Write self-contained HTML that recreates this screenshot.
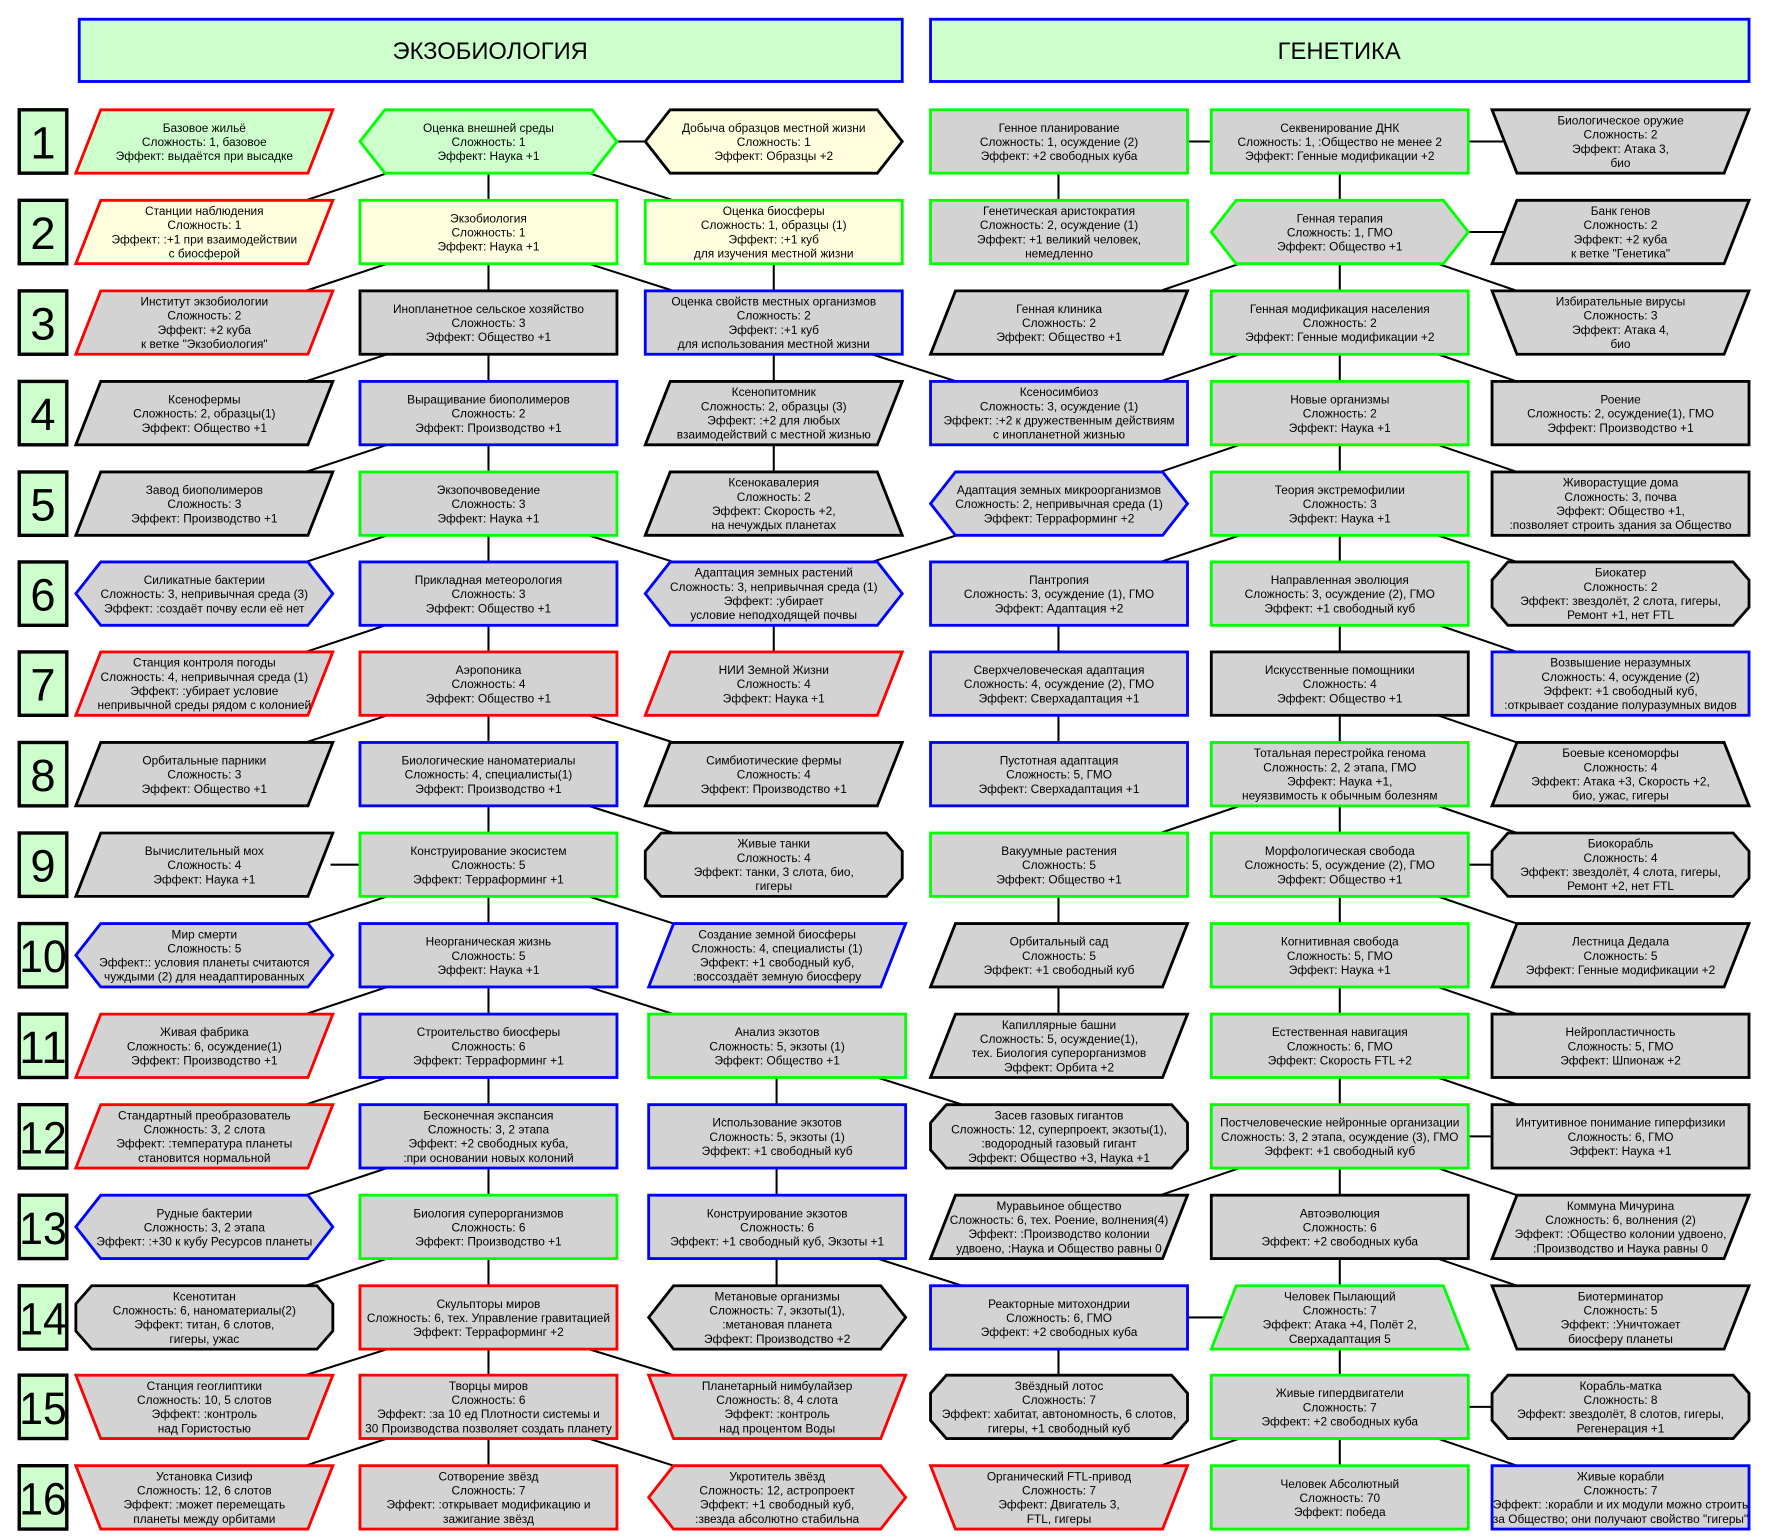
<!DOCTYPE html>
<html><head><meta charset="utf-8"><style>
html,body{margin:0;padding:0;background:#fff}
svg{display:block}
use{stroke-width:2.5;stroke-linejoin:miter}
.g{fill:#d3d3d3}.y{fill:#ffffe0}.l{fill:#ccffcc}
.k{stroke:#000}.r{stroke:#f00}.e{stroke:#0f0}.b{stroke:#00f}
text{font-family:"Liberation Sans Narrow","Liberation Sans",sans-serif;font-size:10.5px;text-anchor:middle;fill:#000}
.ln line{stroke:#000;stroke-width:1.8}
text.hd{font-family:"Liberation Sans",sans-serif;font-size:21px}
.num text{font-family:"Liberation Sans",sans-serif;font-size:40px}
</style></head><body>
<svg width="1766" height="1537" viewBox="0 0 1560 1358" preserveAspectRatio="none" xmlns="http://www.w3.org/2000/svg">
<defs>
<rect id="R" x="0" y="0" width="227" height="56"/>
<polygon id="P" points="22,0 227,0 205,56 0,56"/>
<polygon id="H" points="22,0 205,0 227,28 205,56 22,56 0,28"/>
<polygon id="D" points="0,0 227,0 205,56 22,56"/>
<polygon id="U" points="22,0 205,0 227,56 0,56"/>
<polygon id="O" points="14,0 213,0 227,16 227,40 213,56 14,56 0,40 0,16"/>
</defs>
<rect x="70" y="17" width="727" height="55" fill="#ccffcc" stroke="#00f" stroke-width="2.5"/>
<text class="hd" x="433" y="52">ЭКЗОБИОЛОГИЯ</text>
<rect x="822" y="17" width="723" height="55" fill="#ccffcc" stroke="#00f" stroke-width="2.5"/>
<text class="hd" x="1183" y="52">ГЕНЕТИКА</text>

<g fill="#ccffcc" stroke="#000" stroke-width="3">
<rect x="17" y="97" width="42" height="56"/><rect x="17" y="177" width="42" height="56"/><rect x="17" y="257" width="42" height="56"/><rect x="17" y="337" width="42" height="56"/>
<rect x="17" y="417" width="42" height="56"/><rect x="17" y="496.5" width="42" height="56"/><rect x="17" y="576" width="42" height="56"/><rect x="17" y="656" width="42" height="56"/>
<rect x="17" y="736" width="42" height="56"/><rect x="17" y="816" width="42" height="56"/><rect x="17" y="896" width="42" height="56"/><rect x="17" y="976" width="42" height="56"/>
<rect x="17" y="1056" width="42" height="56"/><rect x="17" y="1136" width="42" height="56"/><rect x="17" y="1215" width="42" height="56"/><rect x="17" y="1295" width="42" height="56"/>
</g>
<g class="num">
<text x="38" y="140">1</text><text x="38" y="220">2</text><text x="38" y="300">3</text><text x="38" y="380">4</text>
<text x="38" y="460">5</text><text x="38" y="539.5">6</text><text x="38" y="619">7</text><text x="38" y="699">8</text>
<text x="38" y="779">9</text>
<text x="38" y="859" textLength="42" lengthAdjust="spacingAndGlyphs">10</text>
<text x="38" y="939" textLength="42" lengthAdjust="spacingAndGlyphs">11</text>
<text x="38" y="1019" textLength="42" lengthAdjust="spacingAndGlyphs">12</text>
<text x="38" y="1099" textLength="42" lengthAdjust="spacingAndGlyphs">13</text>
<text x="38" y="1179" textLength="42" lengthAdjust="spacingAndGlyphs">14</text>
<text x="38" y="1258" textLength="42" lengthAdjust="spacingAndGlyphs">15</text>
<text x="38" y="1338" textLength="42" lengthAdjust="spacingAndGlyphs">16</text>
</g>

<g class="ln">
<line x1="431.5" y1="153" x2="431.5" y2="1295"/>
<line x1="1183.5" y1="153" x2="1183.5" y2="1295"/>
<line x1="683.5" y1="233" x2="683.5" y2="257"/><line x1="683.5" y1="313" x2="683.5" y2="337"/><line x1="683.5" y1="393" x2="683.5" y2="417"/>
<line x1="683.5" y1="552" x2="683.5" y2="576"/><line x1="686" y1="952" x2="686" y2="976"/><line x1="686" y1="1032" x2="686" y2="1056"/><line x1="686" y1="1112" x2="686" y2="1136"/>
<line x1="935" y1="153" x2="935" y2="177"/><line x1="935" y1="552" x2="935" y2="576"/><line x1="935" y1="632" x2="935" y2="656"/>
<line x1="935" y1="792" x2="935" y2="816"/><line x1="935" y1="872" x2="935" y2="896"/><line x1="935" y1="1192" x2="935" y2="1215"/>
<line x1="545" y1="125" x2="572" y2="125"/><line x1="292" y1="764" x2="318" y2="764"/>
<line x1="1048" y1="125" x2="1070" y2="125"/><line x1="1297" y1="125" x2="1330" y2="125"/>
<line x1="1297" y1="205" x2="1330" y2="205"/><line x1="1297" y1="764" x2="1318" y2="764"/>
<line x1="1297" y1="1004" x2="1318" y2="1004"/><line x1="1048" y1="1164" x2="1080" y2="1164"/>
<line x1="1297" y1="1243" x2="1318" y2="1243"/>
<line x1="342" y1="153" x2="270" y2="177"/><line x1="342" y1="233" x2="270" y2="257"/><line x1="342" y1="313" x2="270" y2="337"/>
<line x1="342" y1="393" x2="270" y2="417"/><line x1="342" y1="473" x2="270" y2="496.5"/><line x1="342" y1="552" x2="270" y2="576"/>
<line x1="342" y1="632" x2="270" y2="656"/><line x1="342" y1="792" x2="270" y2="816"/><line x1="342" y1="872" x2="270" y2="896"/>
<line x1="342" y1="952" x2="270" y2="976"/><line x1="342" y1="1032" x2="270" y2="1056"/><line x1="342" y1="1112" x2="270" y2="1136"/>
<line x1="342" y1="1192" x2="270" y2="1215"/><line x1="342" y1="1271" x2="270" y2="1295"/>
<line x1="520" y1="153" x2="595" y2="177"/><line x1="520" y1="233" x2="595" y2="257"/><line x1="520" y1="473" x2="595" y2="496.5"/>
<line x1="520" y1="632" x2="595" y2="656"/><line x1="520" y1="712" x2="595" y2="736"/><line x1="520" y1="792" x2="595" y2="816"/>
<line x1="520" y1="872" x2="595" y2="896"/><line x1="520" y1="1192" x2="595" y2="1215"/><line x1="520" y1="1271" x2="595" y2="1295"/>
<line x1="770" y1="313" x2="845" y2="337"/><line x1="775" y1="952" x2="850" y2="976"/><line x1="775" y1="1112" x2="850" y2="1136"/>
<line x1="845" y1="473" x2="770" y2="496.5"/>
<line x1="1095" y1="233" x2="1025" y2="257"/><line x1="1095" y1="313" x2="1025" y2="337"/><line x1="1095" y1="393" x2="1025" y2="417"/>
<line x1="1095" y1="473" x2="1025" y2="496.5"/><line x1="1095" y1="712" x2="1025" y2="736"/><line x1="1095" y1="1032" x2="1025" y2="1056"/>
<line x1="1095" y1="1271" x2="1025" y2="1295"/>
<line x1="1270" y1="233" x2="1340" y2="257"/><line x1="1270" y1="313" x2="1340" y2="337"/><line x1="1270" y1="393" x2="1340" y2="417"/>
<line x1="1270" y1="473" x2="1340" y2="496.5"/><line x1="1270" y1="552" x2="1340" y2="576"/><line x1="1270" y1="632" x2="1340" y2="656"/>
<line x1="1270" y1="712" x2="1340" y2="736"/><line x1="1270" y1="792" x2="1340" y2="816"/><line x1="1270" y1="872" x2="1340" y2="896"/>
<line x1="1270" y1="952" x2="1340" y2="976"/><line x1="1270" y1="1032" x2="1340" y2="1056"/><line x1="1270" y1="1112" x2="1340" y2="1136"/>
<line x1="1270" y1="1271" x2="1340" y2="1295"/>
</g>

<g transform="translate(67,97)"><use href="#P" class="l r"/><text y="19.5"><tspan x="113.5">Базовое жильё</tspan><tspan x="113.5" dy="12.5">Сложность: 1, базовое</tspan><tspan x="113.5" dy="12.5">Эффект: выдаётся при высадке</tspan></text></g>
<g transform="translate(318,97)"><use href="#H" class="l e"/><text y="19.5"><tspan x="113.5">Оценка внешней среды</tspan><tspan x="113.5" dy="12.5">Сложность: 1</tspan><tspan x="113.5" dy="12.5">Эффект: Наука +1</tspan></text></g>
<g transform="translate(570,97)"><use href="#H" class="y k"/><text y="19.5"><tspan x="113.5">Добыча образцов местной жизни</tspan><tspan x="113.5" dy="12.5">Сложность: 1</tspan><tspan x="113.5" dy="12.5">Эффект: Образцы +2</tspan></text></g>
<g transform="translate(67,177)"><use href="#P" class="y r"/><text y="13"><tspan x="113.5">Станции наблюдения</tspan><tspan x="113.5" dy="12.5">Сложность: 1</tspan><tspan x="113.5" dy="12.5">Эффект: :+1 при взаимодействии</tspan><tspan x="113.5" dy="12.5">с биосферой</tspan></text></g>
<g transform="translate(318,177)"><use href="#R" class="y e"/><text y="19.5"><tspan x="113.5">Экзобиология</tspan><tspan x="113.5" dy="12.5">Сложность: 1</tspan><tspan x="113.5" dy="12.5">Эффект: Наука +1</tspan></text></g>
<g transform="translate(570,177)"><use href="#R" class="y e"/><text y="13"><tspan x="113.5">Оценка биосферы</tspan><tspan x="113.5" dy="12.5">Сложность: 1, образцы (1)</tspan><tspan x="113.5" dy="12.5">Эффект: :+1 куб</tspan><tspan x="113.5" dy="12.5">для изучения местной жизни</tspan></text></g>
<g transform="translate(67,257)"><use href="#P" class="g r"/><text y="13"><tspan x="113.5">Институт экзобиологии</tspan><tspan x="113.5" dy="12.5">Сложность: 2</tspan><tspan x="113.5" dy="12.5">Эффект: +2 куба</tspan><tspan x="113.5" dy="12.5">к ветке "Экзобиология"</tspan></text></g>
<g transform="translate(318,257)"><use href="#R" class="g k"/><text y="19.5"><tspan x="113.5">Инопланетное сельское хозяйство</tspan><tspan x="113.5" dy="12.5">Сложность: 3</tspan><tspan x="113.5" dy="12.5">Эффект: Общество +1</tspan></text></g>
<g transform="translate(570,257)"><use href="#R" class="g b"/><text y="13"><tspan x="113.5">Оценка свойств местных организмов</tspan><tspan x="113.5" dy="12.5">Сложность: 2</tspan><tspan x="113.5" dy="12.5">Эффект: :+1 куб</tspan><tspan x="113.5" dy="12.5">для использования местной жизни</tspan></text></g>
<g transform="translate(67,337)"><use href="#P" class="g k"/><text y="19.5"><tspan x="113.5">Ксенофермы</tspan><tspan x="113.5" dy="12.5">Сложность: 2, образцы(1)</tspan><tspan x="113.5" dy="12.5">Эффект: Общество +1</tspan></text></g>
<g transform="translate(318,337)"><use href="#R" class="g b"/><text y="19.5"><tspan x="113.5">Выращивание биополимеров</tspan><tspan x="113.5" dy="12.5">Сложность: 2</tspan><tspan x="113.5" dy="12.5">Эффект: Производство +1</tspan></text></g>
<g transform="translate(570,337)"><use href="#P" class="g k"/><text y="13"><tspan x="113.5">Ксенопитомник</tspan><tspan x="113.5" dy="12.5">Сложность: 2, образцы (3)</tspan><tspan x="113.5" dy="12.5">Эффект: :+2 для любых</tspan><tspan x="113.5" dy="12.5">взаимодействий с местной жизнью</tspan></text></g>
<g transform="translate(67,417)"><use href="#P" class="g k"/><text y="19.5"><tspan x="113.5">Завод биополимеров</tspan><tspan x="113.5" dy="12.5">Сложность: 3</tspan><tspan x="113.5" dy="12.5">Эффект: Производство +1</tspan></text></g>
<g transform="translate(318,417)"><use href="#R" class="g e"/><text y="19.5"><tspan x="113.5">Экзопочвоведение</tspan><tspan x="113.5" dy="12.5">Сложность: 3</tspan><tspan x="113.5" dy="12.5">Эффект: Наука +1</tspan></text></g>
<g transform="translate(570,417)"><use href="#U" class="g k"/><text y="13"><tspan x="113.5">Ксенокавалерия</tspan><tspan x="113.5" dy="12.5">Сложность: 2</tspan><tspan x="113.5" dy="12.5">Эффект: Скорость +2,</tspan><tspan x="113.5" dy="12.5">на нечуждых планетах</tspan></text></g>
<g transform="translate(67,496.5)"><use href="#H" class="g b"/><text y="19.5"><tspan x="113.5">Силикатные бактерии</tspan><tspan x="113.5" dy="12.5">Сложность: 3, непривычная среда (3)</tspan><tspan x="113.5" dy="12.5">Эффект: :создаёт почву если её нет</tspan></text></g>
<g transform="translate(318,496.5)"><use href="#R" class="g b"/><text y="19.5"><tspan x="113.5">Прикладная метеорология</tspan><tspan x="113.5" dy="12.5">Сложность: 3</tspan><tspan x="113.5" dy="12.5">Эффект: Общество +1</tspan></text></g>
<g transform="translate(570,496.5)"><use href="#H" class="g b"/><text y="13"><tspan x="113.5">Адаптация земных растений</tspan><tspan x="113.5" dy="12.5">Сложность: 3, непривычная среда (1)</tspan><tspan x="113.5" dy="12.5">Эффект: :убирает</tspan><tspan x="113.5" dy="12.5">условие неподходящей почвы</tspan></text></g>
<g transform="translate(67,576)"><use href="#P" class="g r"/><text y="13"><tspan x="113.5">Станция контроля погоды</tspan><tspan x="113.5" dy="12.5">Сложность: 4, непривычная среда (1)</tspan><tspan x="113.5" dy="12.5">Эффект: :убирает условие</tspan><tspan x="113.5" dy="12.5">непривычной среды рядом с колонией</tspan></text></g>
<g transform="translate(318,576)"><use href="#R" class="g r"/><text y="19.5"><tspan x="113.5">Аэропоника</tspan><tspan x="113.5" dy="12.5">Сложность: 4</tspan><tspan x="113.5" dy="12.5">Эффект: Общество +1</tspan></text></g>
<g transform="translate(570,576)"><use href="#P" class="g r"/><text y="19.5"><tspan x="113.5">НИИ Земной Жизни</tspan><tspan x="113.5" dy="12.5">Сложность: 4</tspan><tspan x="113.5" dy="12.5">Эффект: Наука +1</tspan></text></g>
<g transform="translate(67,656)"><use href="#P" class="g k"/><text y="19.5"><tspan x="113.5">Орбитальные парники</tspan><tspan x="113.5" dy="12.5">Сложность: 3</tspan><tspan x="113.5" dy="12.5">Эффект: Общество +1</tspan></text></g>
<g transform="translate(318,656)"><use href="#R" class="g b"/><text y="19.5"><tspan x="113.5">Биологические наноматериалы</tspan><tspan x="113.5" dy="12.5">Сложность: 4, специалисты(1)</tspan><tspan x="113.5" dy="12.5">Эффект: Производство +1</tspan></text></g>
<g transform="translate(570,656)"><use href="#P" class="g k"/><text y="19.5"><tspan x="113.5">Симбиотические фермы</tspan><tspan x="113.5" dy="12.5">Сложность: 4</tspan><tspan x="113.5" dy="12.5">Эффект: Производство +1</tspan></text></g>
<g transform="translate(67,736)"><use href="#P" class="g k"/><text y="19.5"><tspan x="113.5">Вычислительный мох</tspan><tspan x="113.5" dy="12.5">Сложность: 4</tspan><tspan x="113.5" dy="12.5">Эффект: Наука +1</tspan></text></g>
<g transform="translate(318,736)"><use href="#R" class="g e"/><text y="19.5"><tspan x="113.5">Конструирование экосистем</tspan><tspan x="113.5" dy="12.5">Сложность: 5</tspan><tspan x="113.5" dy="12.5">Эффект: Терраформинг +1</tspan></text></g>
<g transform="translate(570,736)"><use href="#O" class="g k"/><text y="13"><tspan x="113.5">Живые танки</tspan><tspan x="113.5" dy="12.5">Сложность: 4</tspan><tspan x="113.5" dy="12.5">Эффект: танки, 3 слота, био,</tspan><tspan x="113.5" dy="12.5">гигеры</tspan></text></g>
<g transform="translate(67,816)"><use href="#H" class="g b"/><text y="13"><tspan x="113.5">Мир смерти</tspan><tspan x="113.5" dy="12.5">Сложность: 5</tspan><tspan x="113.5" dy="12.5">Эффект:: условия планеты считаются</tspan><tspan x="113.5" dy="12.5">чуждыми (2) для неадаптированных</tspan></text></g>
<g transform="translate(318,816)"><use href="#R" class="g b"/><text y="19.5"><tspan x="113.5">Неорганическая жизнь</tspan><tspan x="113.5" dy="12.5">Сложность: 5</tspan><tspan x="113.5" dy="12.5">Эффект: Наука +1</tspan></text></g>
<g transform="translate(573,816)"><use href="#P" class="g b"/><text y="13"><tspan x="113.5">Создание земной биосферы</tspan><tspan x="113.5" dy="12.5">Сложность: 4, специалисты (1)</tspan><tspan x="113.5" dy="12.5">Эффект: +1 свободный куб,</tspan><tspan x="113.5" dy="12.5">:воссоздаёт земную биосферу</tspan></text></g>
<g transform="translate(67,896)"><use href="#P" class="g r"/><text y="19.5"><tspan x="113.5">Живая фабрика</tspan><tspan x="113.5" dy="12.5">Сложность: 6, осуждение(1)</tspan><tspan x="113.5" dy="12.5">Эффект: Производство +1</tspan></text></g>
<g transform="translate(318,896)"><use href="#R" class="g b"/><text y="19.5"><tspan x="113.5">Строительство биосферы</tspan><tspan x="113.5" dy="12.5">Сложность: 6</tspan><tspan x="113.5" dy="12.5">Эффект: Терраформинг +1</tspan></text></g>
<g transform="translate(573,896)"><use href="#R" class="g e"/><text y="19.5"><tspan x="113.5">Анализ экзотов</tspan><tspan x="113.5" dy="12.5">Сложность: 5, экзоты (1)</tspan><tspan x="113.5" dy="12.5">Эффект: Общество +1</tspan></text></g>
<g transform="translate(67,976)"><use href="#P" class="g r"/><text y="13"><tspan x="113.5">Стандартный преобразователь</tspan><tspan x="113.5" dy="12.5">Сложность: 3, 2 слота</tspan><tspan x="113.5" dy="12.5">Эффект: :температура планеты</tspan><tspan x="113.5" dy="12.5">становится нормальной</tspan></text></g>
<g transform="translate(318,976)"><use href="#R" class="g b"/><text y="13"><tspan x="113.5">Бесконечная экспансия</tspan><tspan x="113.5" dy="12.5">Сложность: 3, 2 этапа</tspan><tspan x="113.5" dy="12.5">Эффект: +2 свободных куба,</tspan><tspan x="113.5" dy="12.5">:при основании новых колоний</tspan></text></g>
<g transform="translate(573,976)"><use href="#R" class="g b"/><text y="19.5"><tspan x="113.5">Использование экзотов</tspan><tspan x="113.5" dy="12.5">Сложность: 5, экзоты (1)</tspan><tspan x="113.5" dy="12.5">Эффект: +1 свободный куб</tspan></text></g>
<g transform="translate(822,976)"><use href="#O" class="g k"/><text y="13"><tspan x="113.5">Засев газовых гигантов</tspan><tspan x="113.5" dy="12.5">Сложность: 12, суперпроект, экзоты(1),</tspan><tspan x="113.5" dy="12.5">:водородный газовый гигант</tspan><tspan x="113.5" dy="12.5">Эффект: Общество +3, Наука +1</tspan></text></g>
<g transform="translate(67,1056)"><use href="#H" class="g b"/><text y="19.5"><tspan x="113.5">Рудные бактерии</tspan><tspan x="113.5" dy="12.5">Сложность: 3, 2 этапа</tspan><tspan x="113.5" dy="12.5">Эффект: :+30 к кубу Ресурсов планеты</tspan></text></g>
<g transform="translate(318,1056)"><use href="#R" class="g e"/><text y="19.5"><tspan x="113.5">Биология суперорганизмов</tspan><tspan x="113.5" dy="12.5">Сложность: 6</tspan><tspan x="113.5" dy="12.5">Эффект: Производство +1</tspan></text></g>
<g transform="translate(573,1056)"><use href="#R" class="g b"/><text y="19.5"><tspan x="113.5">Конструирование экзотов</tspan><tspan x="113.5" dy="12.5">Сложность: 6</tspan><tspan x="113.5" dy="12.5">Эффект: +1 свободный куб, Экзоты +1</tspan></text></g>
<g transform="translate(67,1136)"><use href="#O" class="g k"/><text y="13"><tspan x="113.5">Ксенотитан</tspan><tspan x="113.5" dy="12.5">Сложность: 6, наноматериалы(2)</tspan><tspan x="113.5" dy="12.5">Эффект: титан, 6 слотов,</tspan><tspan x="113.5" dy="12.5">гигеры, ужас</tspan></text></g>
<g transform="translate(318,1136)"><use href="#R" class="g r"/><text y="19.5"><tspan x="113.5">Скульпторы миров</tspan><tspan x="113.5" dy="12.5">Сложность: 6, тех. Управление гравитацией</tspan><tspan x="113.5" dy="12.5">Эффект: Терраформинг +2</tspan></text></g>
<g transform="translate(573,1136)"><use href="#H" class="g k"/><text y="13"><tspan x="113.5">Метановые организмы</tspan><tspan x="113.5" dy="12.5">Сложность: 7, экзоты(1),</tspan><tspan x="113.5" dy="12.5">:метановая планета</tspan><tspan x="113.5" dy="12.5">Эффект: Производство +2</tspan></text></g>
<g transform="translate(67,1215)"><use href="#D" class="g r"/><text y="13"><tspan x="113.5">Станция геоглиптики</tspan><tspan x="113.5" dy="12.5">Сложность: 10, 5 слотов</tspan><tspan x="113.5" dy="12.5">Эффект: :контроль</tspan><tspan x="113.5" dy="12.5">над Гористостью</tspan></text></g>
<g transform="translate(318,1215)"><use href="#R" class="g r"/><text y="13"><tspan x="113.5">Творцы миров</tspan><tspan x="113.5" dy="12.5">Сложность: 6</tspan><tspan x="113.5" dy="12.5">Эффект: :за 10 ед Плотности системы и</tspan><tspan x="113.5" dy="12.5">30 Производства позволяет создать планету</tspan></text></g>
<g transform="translate(573,1215)"><use href="#D" class="g r"/><text y="13"><tspan x="113.5">Планетарный нимбулайзер</tspan><tspan x="113.5" dy="12.5">Сложность: 8, 4 слота</tspan><tspan x="113.5" dy="12.5">Эффект: :контроль</tspan><tspan x="113.5" dy="12.5">над процентом Воды</tspan></text></g>
<g transform="translate(67,1295)"><use href="#D" class="g r"/><text y="13"><tspan x="113.5">Установка Сизиф</tspan><tspan x="113.5" dy="12.5">Сложность: 12, 6 слотов</tspan><tspan x="113.5" dy="12.5">Эффект: :может перемещать</tspan><tspan x="113.5" dy="12.5">планеты между орбитами</tspan></text></g>
<g transform="translate(318,1295)"><use href="#R" class="g r"/><text y="13"><tspan x="113.5">Сотворение звёзд</tspan><tspan x="113.5" dy="12.5">Сложность: 7</tspan><tspan x="113.5" dy="12.5">Эффект: :открывает модификацию и</tspan><tspan x="113.5" dy="12.5">зажигание звёзд</tspan></text></g>
<g transform="translate(573,1295)"><use href="#H" class="g r"/><text y="13"><tspan x="113.5">Укротитель звёзд</tspan><tspan x="113.5" dy="12.5">Сложность: 12, астропроект</tspan><tspan x="113.5" dy="12.5">Эффект: +1 свободный куб,</tspan><tspan x="113.5" dy="12.5">:звезда абсолютно стабильна</tspan></text></g>

<g transform="translate(822,97)"><use href="#R" class="g e"/><text y="19.5"><tspan x="113.5">Генное планирование</tspan><tspan x="113.5" dy="12.5">Сложность: 1, осуждение (2)</tspan><tspan x="113.5" dy="12.5">Эффект: +2 свободных куба</tspan></text></g>
<g transform="translate(1070,97)"><use href="#R" class="g e"/><text y="19.5"><tspan x="113.5">Секвенирование ДНК</tspan><tspan x="113.5" dy="12.5">Сложность: 1, :Общество не менее 2</tspan><tspan x="113.5" dy="12.5">Эффект: Генные модификации +2</tspan></text></g>
<g transform="translate(1318,97)"><use href="#D" class="g k"/><text y="13"><tspan x="113.5">Биологическое оружие</tspan><tspan x="113.5" dy="12.5">Сложность: 2</tspan><tspan x="113.5" dy="12.5">Эффект: Атака 3,</tspan><tspan x="113.5" dy="12.5">био</tspan></text></g>
<g transform="translate(822,177)"><use href="#R" class="g e"/><text y="13"><tspan x="113.5">Генетическая аристократия</tspan><tspan x="113.5" dy="12.5">Сложность: 2, осуждение (1)</tspan><tspan x="113.5" dy="12.5">Эффект: +1 великий человек,</tspan><tspan x="113.5" dy="12.5">немедленно</tspan></text></g>
<g transform="translate(1070,177)"><use href="#H" class="g e"/><text y="19.5"><tspan x="113.5">Генная терапия</tspan><tspan x="113.5" dy="12.5">Сложность: 1, ГМО</tspan><tspan x="113.5" dy="12.5">Эффект: Общество +1</tspan></text></g>
<g transform="translate(1318,177)"><use href="#P" class="g k"/><text y="13"><tspan x="113.5">Банк генов</tspan><tspan x="113.5" dy="12.5">Сложность: 2</tspan><tspan x="113.5" dy="12.5">Эффект: +2 куба</tspan><tspan x="113.5" dy="12.5">к ветке "Генетика"</tspan></text></g>
<g transform="translate(822,257)"><use href="#P" class="g k"/><text y="19.5"><tspan x="113.5">Генная клиника</tspan><tspan x="113.5" dy="12.5">Сложность: 2</tspan><tspan x="113.5" dy="12.5">Эффект: Общество +1</tspan></text></g>
<g transform="translate(1070,257)"><use href="#R" class="g e"/><text y="19.5"><tspan x="113.5">Генная модификация населения</tspan><tspan x="113.5" dy="12.5">Сложность: 2</tspan><tspan x="113.5" dy="12.5">Эффект: Генные модификации +2</tspan></text></g>
<g transform="translate(1318,257)"><use href="#D" class="g k"/><text y="13"><tspan x="113.5">Избирательные вирусы</tspan><tspan x="113.5" dy="12.5">Сложность: 3</tspan><tspan x="113.5" dy="12.5">Эффект: Атака 4,</tspan><tspan x="113.5" dy="12.5">био</tspan></text></g>
<g transform="translate(822,337)"><use href="#R" class="g b"/><text y="13"><tspan x="113.5">Ксеносимбиоз</tspan><tspan x="113.5" dy="12.5">Сложность: 3, осуждение (1)</tspan><tspan x="113.5" dy="12.5">Эффект: :+2 к дружественным действиям</tspan><tspan x="113.5" dy="12.5">с инопланетной жизнью</tspan></text></g>
<g transform="translate(1070,337)"><use href="#R" class="g e"/><text y="19.5"><tspan x="113.5">Новые организмы</tspan><tspan x="113.5" dy="12.5">Сложность: 2</tspan><tspan x="113.5" dy="12.5">Эффект: Наука +1</tspan></text></g>
<g transform="translate(1318,337)"><use href="#R" class="g k"/><text y="19.5"><tspan x="113.5">Роение</tspan><tspan x="113.5" dy="12.5">Сложность: 2, осуждение(1), ГМО</tspan><tspan x="113.5" dy="12.5">Эффект: Производство +1</tspan></text></g>
<g transform="translate(822,417)"><use href="#H" class="g b"/><text y="19.5"><tspan x="113.5">Адаптация земных микроорганизмов</tspan><tspan x="113.5" dy="12.5">Сложность: 2, непривычная среда (1)</tspan><tspan x="113.5" dy="12.5">Эффект: Терраформинг +2</tspan></text></g>
<g transform="translate(1070,417)"><use href="#R" class="g e"/><text y="19.5"><tspan x="113.5">Теория экстремофилии</tspan><tspan x="113.5" dy="12.5">Сложность: 3</tspan><tspan x="113.5" dy="12.5">Эффект: Наука +1</tspan></text></g>
<g transform="translate(1318,417)"><use href="#R" class="g k"/><text y="13"><tspan x="113.5">Живорастущие дома</tspan><tspan x="113.5" dy="12.5">Сложность: 3, почва</tspan><tspan x="113.5" dy="12.5">Эффект: Общество +1,</tspan><tspan x="113.5" dy="12.5">:позволяет строить здания за Общество</tspan></text></g>
<g transform="translate(822,496.5)"><use href="#R" class="g b"/><text y="19.5"><tspan x="113.5">Пантропия</tspan><tspan x="113.5" dy="12.5">Сложность: 3, осуждение (1), ГМО</tspan><tspan x="113.5" dy="12.5">Эффект: Адаптация +2</tspan></text></g>
<g transform="translate(1070,496.5)"><use href="#R" class="g e"/><text y="19.5"><tspan x="113.5">Направленная эволюция</tspan><tspan x="113.5" dy="12.5">Сложность: 3, осуждение (2), ГМО</tspan><tspan x="113.5" dy="12.5">Эффект: +1 свободный куб</tspan></text></g>
<g transform="translate(1318,496.5)"><use href="#O" class="g k"/><text y="13"><tspan x="113.5">Биокатер</tspan><tspan x="113.5" dy="12.5">Сложность: 2</tspan><tspan x="113.5" dy="12.5">Эффект: звездолёт, 2 слота, гигеры,</tspan><tspan x="113.5" dy="12.5">Ремонт +1, нет FTL</tspan></text></g>
<g transform="translate(822,576)"><use href="#R" class="g b"/><text y="19.5"><tspan x="113.5">Сверхчеловеческая адаптация</tspan><tspan x="113.5" dy="12.5">Сложность: 4, осуждение (2), ГМО</tspan><tspan x="113.5" dy="12.5">Эффект: Сверхадаптация +1</tspan></text></g>
<g transform="translate(1070,576)"><use href="#R" class="g k"/><text y="19.5"><tspan x="113.5">Искусственные помощники</tspan><tspan x="113.5" dy="12.5">Сложность: 4</tspan><tspan x="113.5" dy="12.5">Эффект: Общество +1</tspan></text></g>
<g transform="translate(1318,576)"><use href="#R" class="g b"/><text y="13"><tspan x="113.5">Возвышение неразумных</tspan><tspan x="113.5" dy="12.5">Сложность: 4, осуждение (2)</tspan><tspan x="113.5" dy="12.5">Эффект: +1 свободный куб,</tspan><tspan x="113.5" dy="12.5">:открывает создание полуразумных видов</tspan></text></g>
<g transform="translate(822,656)"><use href="#R" class="g b"/><text y="19.5"><tspan x="113.5">Пустотная адаптация</tspan><tspan x="113.5" dy="12.5">Сложность: 5, ГМО</tspan><tspan x="113.5" dy="12.5">Эффект: Сверхадаптация +1</tspan></text></g>
<g transform="translate(1070,656)"><use href="#R" class="g e"/><text y="13"><tspan x="113.5">Тотальная перестройка генома</tspan><tspan x="113.5" dy="12.5">Сложность: 2, 2 этапа, ГМО</tspan><tspan x="113.5" dy="12.5">Эффект: Наука +1,</tspan><tspan x="113.5" dy="12.5">неуязвимость к обычным болезням</tspan></text></g>
<g transform="translate(1318,656)"><use href="#U" class="g k"/><text y="13"><tspan x="113.5">Боевые ксеноморфы</tspan><tspan x="113.5" dy="12.5">Сложность: 4</tspan><tspan x="113.5" dy="12.5">Эффект: Атака +3, Скорость +2,</tspan><tspan x="113.5" dy="12.5">био, ужас, гигеры</tspan></text></g>
<g transform="translate(822,736)"><use href="#R" class="g e"/><text y="19.5"><tspan x="113.5">Вакуумные растения</tspan><tspan x="113.5" dy="12.5">Сложность: 5</tspan><tspan x="113.5" dy="12.5">Эффект: Общество +1</tspan></text></g>
<g transform="translate(1070,736)"><use href="#R" class="g e"/><text y="19.5"><tspan x="113.5">Морфологическая свобода</tspan><tspan x="113.5" dy="12.5">Сложность: 5, осуждение (2), ГМО</tspan><tspan x="113.5" dy="12.5">Эффект: Общество +1</tspan></text></g>
<g transform="translate(1318,736)"><use href="#O" class="g k"/><text y="13"><tspan x="113.5">Биокорабль</tspan><tspan x="113.5" dy="12.5">Сложность: 4</tspan><tspan x="113.5" dy="12.5">Эффект: звездолёт, 4 слота, гигеры,</tspan><tspan x="113.5" dy="12.5">Ремонт +2, нет FTL</tspan></text></g>
<g transform="translate(822,816)"><use href="#P" class="g k"/><text y="19.5"><tspan x="113.5">Орбитальный сад</tspan><tspan x="113.5" dy="12.5">Сложность: 5</tspan><tspan x="113.5" dy="12.5">Эффект: +1 свободный куб</tspan></text></g>
<g transform="translate(1070,816)"><use href="#R" class="g e"/><text y="19.5"><tspan x="113.5">Когнитивная свобода</tspan><tspan x="113.5" dy="12.5">Сложность: 5, ГМО</tspan><tspan x="113.5" dy="12.5">Эффект: Наука +1</tspan></text></g>
<g transform="translate(1318,816)"><use href="#P" class="g k"/><text y="19.5"><tspan x="113.5">Лестница Дедала</tspan><tspan x="113.5" dy="12.5">Сложность: 5</tspan><tspan x="113.5" dy="12.5">Эффект: Генные модификации +2</tspan></text></g>
<g transform="translate(822,896)"><use href="#P" class="g k"/><text y="13"><tspan x="113.5">Капиллярные башни</tspan><tspan x="113.5" dy="12.5">Сложность: 5, осуждение(1),</tspan><tspan x="113.5" dy="12.5">тех. Биология суперорганизмов</tspan><tspan x="113.5" dy="12.5">Эффект: Орбита +2</tspan></text></g>
<g transform="translate(1070,896)"><use href="#R" class="g e"/><text y="19.5"><tspan x="113.5">Естественная навигация</tspan><tspan x="113.5" dy="12.5">Сложность: 6, ГМО</tspan><tspan x="113.5" dy="12.5">Эффект: Скорость FTL +2</tspan></text></g>
<g transform="translate(1318,896)"><use href="#R" class="g k"/><text y="19.5"><tspan x="113.5">Нейропластичность</tspan><tspan x="113.5" dy="12.5">Сложность: 5, ГМО</tspan><tspan x="113.5" dy="12.5">Эффект: Шпионаж +2</tspan></text></g>
<g transform="translate(1070,976)"><use href="#R" class="g e"/><text y="19.5"><tspan x="113.5">Постчеловеческие нейронные организации</tspan><tspan x="113.5" dy="12.5">Сложность: 3, 2 этапа, осуждение (3), ГМО</tspan><tspan x="113.5" dy="12.5">Эффект: +1 свободный куб</tspan></text></g>
<g transform="translate(1318,976)"><use href="#R" class="g k"/><text y="19.5"><tspan x="113.5">Интуитивное понимание гиперфизики</tspan><tspan x="113.5" dy="12.5">Сложность: 6, ГМО</tspan><tspan x="113.5" dy="12.5">Эффект: Наука +1</tspan></text></g>
<g transform="translate(822,1056)"><use href="#P" class="g k"/><text y="13"><tspan x="113.5">Муравьиное общество</tspan><tspan x="113.5" dy="12.5">Сложность: 6, тех. Роение, волнения(4)</tspan><tspan x="113.5" dy="12.5">Эффект: :Производство колонии</tspan><tspan x="113.5" dy="12.5">удвоено, :Наука и Общество равны 0</tspan></text></g>
<g transform="translate(1070,1056)"><use href="#R" class="g k"/><text y="19.5"><tspan x="113.5">Автоэволюция</tspan><tspan x="113.5" dy="12.5">Сложность: 6</tspan><tspan x="113.5" dy="12.5">Эффект: +2 свободных куба</tspan></text></g>
<g transform="translate(1318,1056)"><use href="#P" class="g k"/><text y="13"><tspan x="113.5">Коммуна Мичурина</tspan><tspan x="113.5" dy="12.5">Сложность: 6, волнения (2)</tspan><tspan x="113.5" dy="12.5">Эффект: :Общество колонии удвоено,</tspan><tspan x="113.5" dy="12.5">:Производство и Наука равны 0</tspan></text></g>
<g transform="translate(822,1136)"><use href="#R" class="g b"/><text y="19.5"><tspan x="113.5">Реакторные митохондрии</tspan><tspan x="113.5" dy="12.5">Сложность: 6, ГМО</tspan><tspan x="113.5" dy="12.5">Эффект: +2 свободных куба</tspan></text></g>
<g transform="translate(1070,1136)"><use href="#U" class="g e"/><text y="13"><tspan x="113.5">Человек Пылающий</tspan><tspan x="113.5" dy="12.5">Сложность: 7</tspan><tspan x="113.5" dy="12.5">Эффект: Атака +4, Полёт 2,</tspan><tspan x="113.5" dy="12.5">Сверхадаптация 5</tspan></text></g>
<g transform="translate(1318,1136)"><use href="#D" class="g k"/><text y="13"><tspan x="113.5">Биотерминатор</tspan><tspan x="113.5" dy="12.5">Сложность: 5</tspan><tspan x="113.5" dy="12.5">Эффект: :Уничтожает</tspan><tspan x="113.5" dy="12.5">биосферу планеты</tspan></text></g>
<g transform="translate(822,1215)"><use href="#O" class="g k"/><text y="13"><tspan x="113.5">Звёздный лотос</tspan><tspan x="113.5" dy="12.5">Сложность: 7</tspan><tspan x="113.5" dy="12.5">Эффект: хабитат, автономность, 6 слотов,</tspan><tspan x="113.5" dy="12.5">гигеры, +1 свободный куб</tspan></text></g>
<g transform="translate(1070,1215)"><use href="#R" class="g e"/><text y="19.5"><tspan x="113.5">Живые гипердвигатели</tspan><tspan x="113.5" dy="12.5">Сложность: 7</tspan><tspan x="113.5" dy="12.5">Эффект: +2 свободных куба</tspan></text></g>
<g transform="translate(1318,1215)"><use href="#O" class="g k"/><text y="13"><tspan x="113.5">Корабль-матка</tspan><tspan x="113.5" dy="12.5">Сложность: 8</tspan><tspan x="113.5" dy="12.5">Эффект: звездолёт, 8 слотов, гигеры,</tspan><tspan x="113.5" dy="12.5">Регенерация +1</tspan></text></g>
<g transform="translate(822,1295)"><use href="#D" class="g r"/><text y="13"><tspan x="113.5">Органический FTL-привод</tspan><tspan x="113.5" dy="12.5">Сложность: 7</tspan><tspan x="113.5" dy="12.5">Эффект: Двигатель 3,</tspan><tspan x="113.5" dy="12.5">FTL, гигеры</tspan></text></g>
<g transform="translate(1070,1295)"><use href="#R" class="g e"/><text y="19.5"><tspan x="113.5">Человек Абсолютный</tspan><tspan x="113.5" dy="12.5">Сложность: 70</tspan><tspan x="113.5" dy="12.5">Эффект: победа</tspan></text></g>
<g transform="translate(1318,1295)"><use href="#R" class="g b"/><text y="13"><tspan x="113.5">Живые корабли</tspan><tspan x="113.5" dy="12.5">Сложность: 7</tspan><tspan x="113.5" dy="12.5">Эффект: :корабли и их модули можно строить</tspan><tspan x="113.5" dy="12.5">за Общество; они получают свойство "гигеры"</tspan></text></g>
</svg>
</body></html>
